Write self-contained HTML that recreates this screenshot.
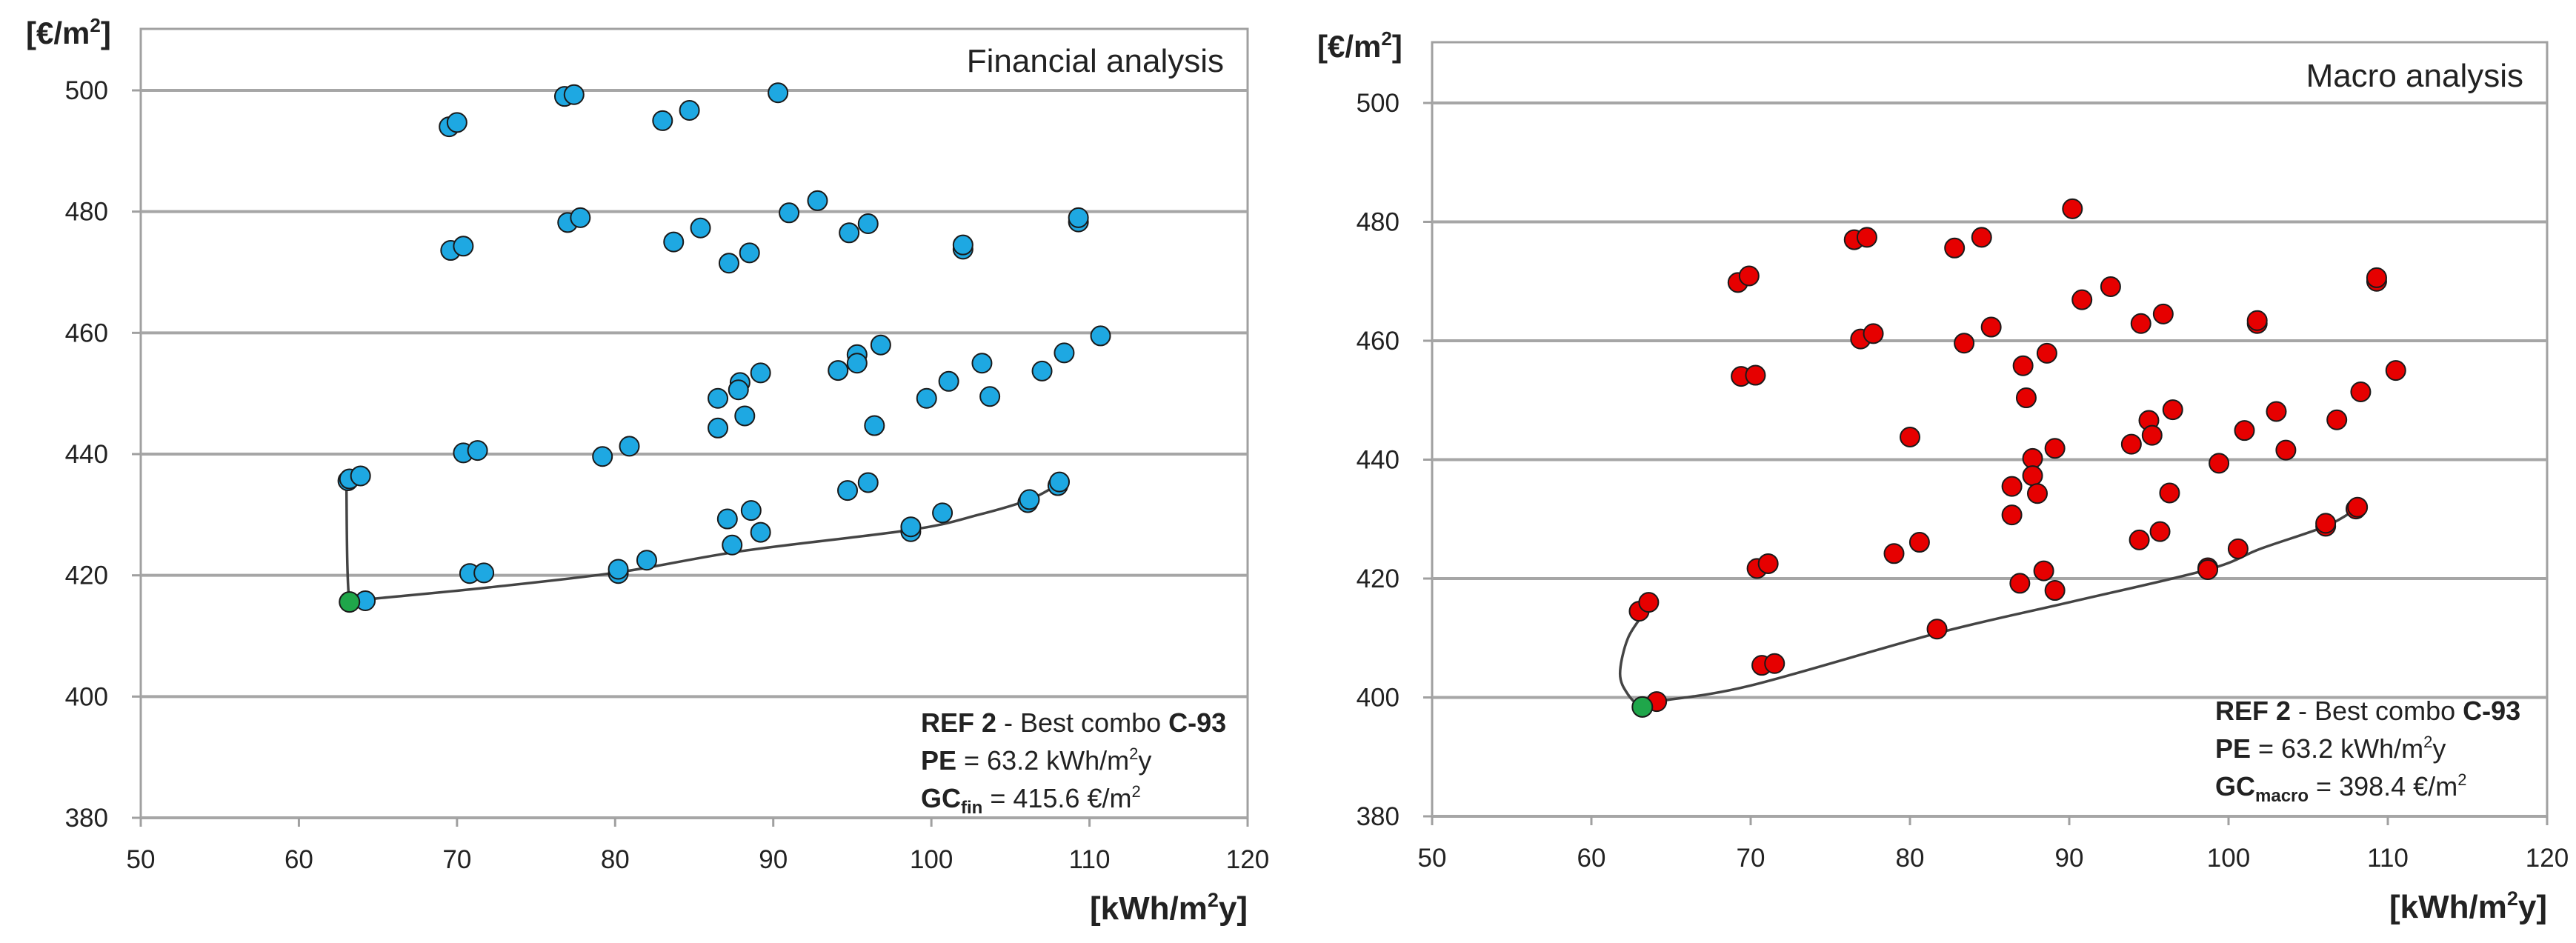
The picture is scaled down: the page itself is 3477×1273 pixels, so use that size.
<!DOCTYPE html>
<html><head><meta charset="utf-8">
<style>
html,body{margin:0;padding:0;background:#fff;}
svg{display:block;}
text{font-family:"Liberation Sans Narrow","Liberation Sans",sans-serif;fill:#222;}
</style></head>
<body>
<svg id="fig" width="3477" height="1273" viewBox="0 0 3477 1273" xmlns="http://www.w3.org/2000/svg"></svg>
<script>
// ---- data ----
const xTicks = [50,60,70,80,90,100,110,120];
const yTicks = [380,400,420,440,460,480,500];

const finX = [69.5,70,76.8,77.4,83,84.7,90.3,
  69.6,70.4,77,77.8,83.7,85.4,87.2,88.5,91,92.8,94.8,96,102,102,109.3,109.3,
  110.7,108.4,107,103.2,103.7,101.1,99.7,96.8,95.3,95.3,94.1,96.4,89.2,87.9,87.8,86.5,88.2,86.5,
  70.4,71.3,79.2,80.9,
  63.1,63.2,63.9,
  94.7,96,87.1,88.6,87.4,89.2,98.7,98.7,100.7,106.1,106.2,108,108.1,
  70.8,71.7,80.2,80.2,82,64.2];
const finY = [494,494.7,499,499.3,495,496.7,499.6,
  473.6,474.3,478.2,479,475,477.3,471.5,473.2,479.8,481.8,476.5,478,473.8,474.5,478.3,479,
  459.5,456.7,453.7,455,449.5,452,449.2,458,456.4,455,453.8,444.7,453.4,451.8,450.6,449.2,446.3,444.3,
  440.2,440.6,439.6,441.3,
  435.6,435.9,436.4,
  434,435.3,429.3,430.7,425,427.1,427.2,428,430.3,432,432.5,434.8,435.4,
  420.3,420.4,420.3,421,422.5,415.8];
const finBest = [63.2,415.6];
const finCurveX = [63.0,63.2,64.2,72,80.2,88,98.7,103,106.2,108];
const finCurveY = [436,415.6,416,418,420.5,424,427.5,430,432.5,435];

const macX = [69.2,69.9,76.5,77.3,82.8,84.5,90.2,69.4,70.3,76.9,77.7,83.4,85.1,87.1,88.6,87.3,
  90.8,92.6,94.5,95.9,101.8,101.8,109.3,109.3,110.5,108.3,106.8,103.0,103.6,101.0,99.4,
  96.5,95.0,95.2,93.9,96.3,95.7,94.4,80.0,89.1,87.7,87.7,88.0,86.4,86.4,79.0,80.6,70.4,71.1,
  86.9,88.4,89.1,81.7,70.7,71.5,63.0,63.6,64.1,98.7,98.7,100.6,106.1,106.1,108.0,108.1];
const macY = [469.8,470.9,477.0,477.4,475.6,477.4,482.2,454.0,454.2,460.3,461.2,459.6,462.3,455.8,457.9,450.4,
  466.9,469.1,462.9,464.5,462.9,463.4,470.0,470.6,455.0,451.4,446.7,448.1,441.6,444.9,439.4,
  448.4,446.6,444.1,442.6,434.4,427.9,426.5,443.8,441.9,440.2,437.3,434.3,435.5,430.7,424.2,426.1,421.7,422.5,
  419.2,421.3,418.0,411.5,405.4,405.7,414.5,416.0,399.3,421.8,421.5,425.0,428.8,429.3,431.7,432.0];
const macBest = [63.2,398.4];
const macCurveX = [63.4,62.3,61.8,62.3,63.2,64.1,70,81.7,90,98.7,102,106.1,108];
const macCurveY = [414.5,410,404,400.5,398.4,399.3,402,410.8,416,421.5,425,428.8,431.7];

const NS = "http://www.w3.org/2000/svg";
const svg = document.getElementById('fig');
function mk(tag, attrs, parent){
  const e = document.createElementNS(NS, tag);
  for (const k in attrs) e.setAttribute(k, attrs[k]);
  (parent||svg).appendChild(e);
  return e;
}
function smoothPath(pts){
  let d = "M"+pts[0][0]+","+pts[0][1];
  for (let i=0;i<pts.length-1;i++){
    const p0=pts[Math.max(0,i-1)], p1=pts[i], p2=pts[i+1], p3=pts[Math.min(pts.length-1,i+2)];
    const c1x=p1[0]+(p2[0]-p0[0])/6, c1y=p1[1]+(p2[1]-p0[1])/6;
    const c2x=p2[0]-(p3[0]-p1[0])/6, c2y=p2[1]-(p3[1]-p1[1])/6;
    d += " C"+c1x+","+c1y+" "+c2x+","+c2y+" "+p2[0]+","+p2[1];
  }
  return d;
}

function chart(cfg){
  const g = mk('g', {});
  
  
  const sx = v => cfg.x0 + (v-50)/70*(cfg.x1-cfg.x0);
  const sy = v => cfg.yb + (v-380)/120*(cfg.y500-cfg.yb);
  const border = mk('rect',{x:cfg.x0,y:cfg.top,width:cfg.x1-cfg.x0,height:cfg.yb-cfg.top,fill:'none',stroke:'#a0a0a0','stroke-width':3},g);
  
  
  yTicks.forEach(t=>{
    const y = sy(t);
    const gl = mk('line',{x1:cfg.x0,x2:cfg.x1,y1:y,y2:y,stroke:'#a6a6a6','stroke-width':4},g);
    
    
    mk('line',{x1:cfg.x0-12,x2:cfg.x0,y1:y,y2:y,stroke:'#a0a0a0','stroke-width':3},g);
    const tl = mk('text',{x:cfg.x0-44,y:y+12,'text-anchor':'end','font-size':35},g);
    tl.textContent = t;
    
    
  });
  xTicks.forEach(t=>{
    const x = sx(t);
    mk('line',{x1:x,x2:x,y1:cfg.yb,y2:cfg.yb+12,stroke:'#a0a0a0','stroke-width':3},g);
    const tl = mk('text',{x:x,y:cfg.yb+68,'text-anchor':'middle','font-size':35},g);
    tl.textContent = t;
    
    
  });
  const yt = mk('text',{x:cfg.x0-155,y:cfg.top+20,'font-size':42,'font-weight':'bold'},g);
  yt.innerHTML = '[€/m<tspan font-size="26" dy="-16">2</tspan><tspan dy="16">]</tspan>';
  
  
  const xt = mk('text',{x:cfg.x1,y:cfg.yb+137,'text-anchor':'end','font-size':44,'font-weight':'bold'},g);
  xt.innerHTML = '[kWh/m<tspan font-size="27" dy="-17">2</tspan><tspan dy="17">y]</tspan>';
  
  
  const tt = mk('text',{x:cfg.x1-32,y:cfg.titleY,'text-anchor':'end','font-size':44},g);
  tt.textContent = cfg.title;
  
  
  const pts = cfg.cx.map((v,i)=>[sx(v), sy(cfg.cy[i])]);
  const cp = mk('path',{d:smoothPath(pts),fill:'none',stroke:'#444','stroke-width':3.5},g);
  
  
  cfg.xs.forEach((v,i)=>{
    const c = mk('circle',{cx:sx(v),cy:sy(cfg.ys[i]),r:13,fill:cfg.color,stroke:'#1a1a1a','stroke-width':2},g);
    
    
  });
  const b = mk('circle',{cx:sx(cfg.best[0]),cy:sy(cfg.best[1]),r:13.5,fill:'#1fa64a',stroke:'#1a1a1a','stroke-width':2},g);
  
  
  const a = mk('g',{'font-size':36},g);
  
  
  const l1 = mk('text',{x:cfg.ax,y:cfg.ay},a);
  l1.innerHTML = '<tspan font-weight="bold">REF 2</tspan> - Best combo <tspan font-weight="bold">C-93</tspan>';
  const l2 = mk('text',{x:cfg.ax,y:cfg.ay+51},a);
  l2.innerHTML = '<tspan font-weight="bold">PE</tspan> = 63.2 kWh/m<tspan font-size="22" dy="-14">2</tspan><tspan dy="14">y</tspan>';
  const l3 = mk('text',{x:cfg.ax,y:cfg.ay+102},a);
  l3.innerHTML = '<tspan font-weight="bold">GC<tspan font-size="24" dy="8">'+cfg.sub+'</tspan></tspan><tspan dy="-8"> = '+cfg.gc+' €/m</tspan><tspan font-size="22" dy="-14">2</tspan>';
}

chart({name:'financial-analysis-chart', x0:190, x1:1684, top:39, y500:122, yb:1104,
  xs:finX, ys:finY, best:finBest, cx:finCurveX, cy:finCurveY, color:'#1ea8e2',
  title:'Financial analysis', titleY:97, ax:1243, ay:988, sub:'fin', gc:'415.6'});
chart({name:'macro-analysis-chart', x0:1933, x1:3438, top:57, y500:139, yb:1102,
  xs:macX, ys:macY, best:macBest, cx:macCurveX, cy:macCurveY, color:'#e60000',
  title:'Macro analysis', titleY:117, ax:2990, ay:972, sub:'macro', gc:'398.4'});
</script>
</body></html>
